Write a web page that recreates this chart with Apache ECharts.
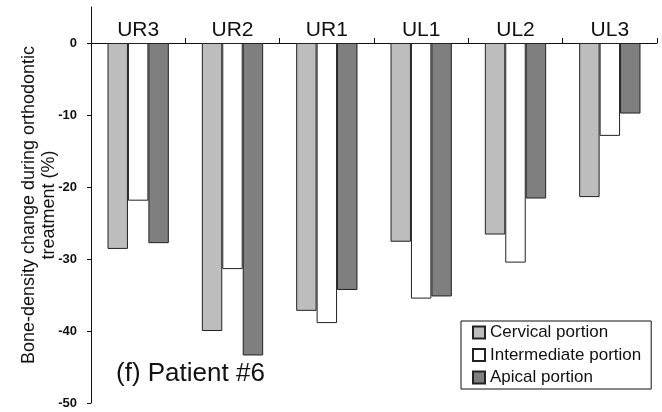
<!DOCTYPE html>
<html>
<head>
<meta charset="utf-8">
<script src="https://cdn.jsdelivr.net/npm/echarts@6/dist/echarts.min.js"></script>
<style>
html,body{margin:0;padding:0;background:#fff;}
#c{width:662px;height:412px;}
</style>
</head>
<body>
<div id="c"></div>
<script>
var categories = ['UR3', 'UR2', 'UR1', 'UL1', 'UL2', 'UL3'];
var cervical = [-28.6, -40.0, -37.2, -27.6, -26.6, -21.4];
var intermediate = [-21.9, -31.4, -38.9, -35.5, -30.5, -12.9];
var apical = [-27.8, -43.4, -34.3, -35.2, -21.6, -9.8];
var yTicks = [-50, -40, -30, -20, -10, 0];
var seriesNames = ['Cervical portion', 'Intermediate portion', 'Apical portion'];

var FONT = 'Liberation Sans, Arial, sans-serif';
var chart = echarts.init(document.getElementById('c'));
function barSeries(name, data, color) {
  return {
    name: name, type: 'bar', data: data,
    barGap: '0%', barCategoryGap: '35%',
    itemStyle: { color: color, borderColor: '#222', borderWidth: 1 }
  };
}
chart.setOption({
  animation: false,
  backgroundColor: '#fff',
  grid: { left: 91, right: 5, top: 7, bottom: 9, outerBoundsMode: 'none', containLabel: false },
  xAxis: {
    type: 'category', data: categories, position: 'top', offset: -36,
    axisLine: { onZero: false, lineStyle: { color: '#111', width: 1 } },
    axisTick: { show: true, length: 5, lineStyle: { color: '#111' } },
    axisLabel: { fontFamily: FONT, fontSize: 21, color: '#111', margin: 2 },
    splitLine: { show: false }
  },
  yAxis: {
    type: 'value', min: -50, max: 5, interval: 10,
    name: 'Bone-density change during orthodontic\ntreatment (%)',
    nameLocation: 'middle', nameRotate: 90, nameGap: 32, nameMoveOverlap: false,
    nameTextStyle: { fontFamily: FONT, fontSize: 18, color: '#111', lineHeight: 20 },
    axisLine: { show: true, onZero: false, lineStyle: { color: '#111', width: 1 } },
    axisTick: { show: true, length: 4, customValues: yTicks, lineStyle: { color: '#111' } },
    axisLabel: { customValues: yTicks, fontFamily: FONT, fontSize: 13, fontWeight: 'bold', color: '#111', margin: 14 },
    splitLine: { show: false }
  },
  legend: {
    data: seriesNames, orient: 'vertical', left: 461, top: 321, width: 196,
    backgroundColor: '#fff', borderColor: '#111', borderWidth: 1,
    padding: [3, 10, 3, 11], itemGap: 5.5, itemWidth: 12, itemHeight: 12,
    icon: 'rect', selectedMode: false,
    textStyle: { fontFamily: FONT, fontSize: 17, color: '#111' }
  },
  graphic: [{
    type: 'text', x: 116, y: 374,
    style: { text: '(f) Patient #6', font: '26px ' + FONT, fill: '#111', verticalAlign: 'middle' }
  }],
  series: [
    barSeries(seriesNames[0], cervical, '#bdbdbd'),
    barSeries(seriesNames[1], intermediate, '#ffffff'),
    barSeries(seriesNames[2], apical, '#7f7f7f')
  ]
});
</script>
</body>
</html>
